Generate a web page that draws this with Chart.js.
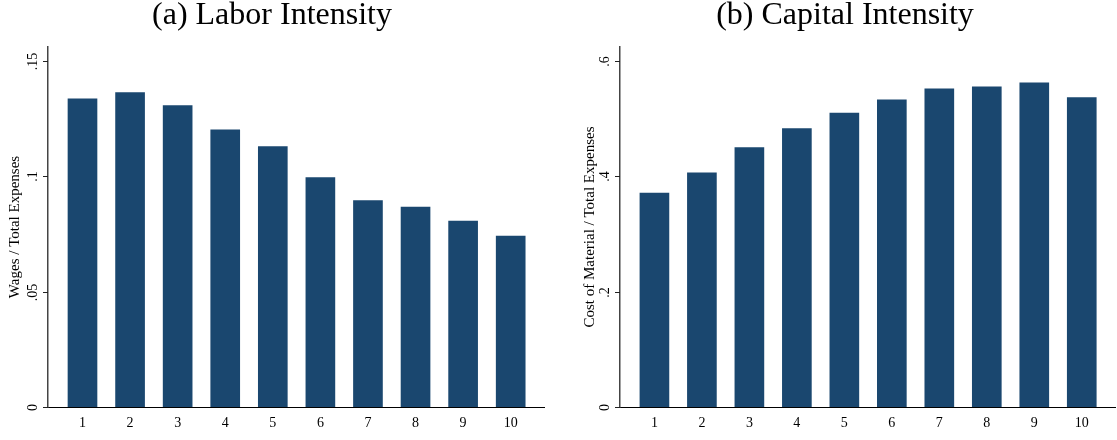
<!DOCTYPE html>
<html>
<head>
<meta charset="utf-8">
<script src="https://cdn.jsdelivr.net/npm/chart.js@4/dist/chart.umd.min.js"></script>
<style>
  html, body { margin: 0; padding: 0; background: #fff; }
  #wrap { position: relative; width: 1117px; height: 440px; }
  .panel { position: absolute; top: 0; height: 440px; }
  #left { left: 0; width: 560px; }
  #right { left: 560px; width: 557px; }
</style>
</head>
<body>
<div id="wrap">
  <div class="panel" id="left"><canvas id="laborChart"></canvas></div>
  <div class="panel" id="right"><canvas id="capitalChart"></canvas></div>
</div>
<script>
// deciles
var deciles = [1, 2, 3, 4, 5, 6, 7, 8, 9, 10];
// wages / total expenses
var laborValues = [0.1335, 0.1362, 0.1306, 0.1201, 0.1128, 0.0994, 0.0894, 0.0866, 0.0806, 0.0741];
// cost of material / total expenses
var capitalValues = [0.3706, 0.4058, 0.4496, 0.4826, 0.5093, 0.5323, 0.5514, 0.5549, 0.5618, 0.5363];
var laborTicks = [0, 0.05, 0.1, 0.15];
var laborTickLabels = ['0', '.05', '.1', '.15'];
var capitalTicks = [0, 0.2, 0.4, 0.6];
var capitalTickLabels = ['0', '.2', '.4', '.6'];

var SERIF = '"Liberation Serif", "Times New Roman", serif';
var BAR = '#1a476f';

// y tick labels are rotated in the original, so draw them (and the tick marks) ourselves
var rotatedYTicks = {
    id: 'rotatedYTicks',
    afterDraw: function (chart, args, opts) {
        var y = chart.scales.y;
        var ctx = chart.ctx;
        ctx.save();
        ctx.strokeStyle = '#222';
        ctx.lineWidth = 1;
        ctx.fillStyle = '#000';
        ctx.font = '14px ' + SERIF;
        ctx.textAlign = 'center';
        ctx.textBaseline = 'alphabetic';
        y.ticks.forEach(function (t, i) {
            var py = Math.round(y.getPixelForValue(t.value)) + 0.5;
            ctx.beginPath();
            ctx.moveTo(y.right - 5, py);
            ctx.lineTo(y.right, py);
            ctx.stroke();
            ctx.save();
            ctx.translate(y.right - 11, py);
            ctx.rotate(-Math.PI / 2);
            ctx.fillText(opts.labels[i], 0, 0);
            ctx.restore();
        });
        ctx.restore();
    }
};

function makeChart(id, title, yTitle, values, yMax, yTicks, yLabels, padLeft, padRight, yWidth) {
    var pts = deciles.map(function (d, i) { return { x: d, y: values[i] }; });
    return new Chart(document.getElementById(id), {
        type: 'bar',
        data: { datasets: [{ data: pts, backgroundColor: BAR, barThickness: 29 }] },
        options: {
            responsive: true,
            maintainAspectRatio: false,
            animation: false,
            layout: { padding: { left: padLeft, right: padRight, top: 0, bottom: 0 } },
            plugins: {
                legend: { display: false },
                tooltip: { enabled: false },
                title: {
                    display: true, text: title, color: '#000',
                    font: { family: SERIF, size: 32, weight: 'normal', lineHeight: 1.0 },
                    padding: { top: 0, bottom: 15 }
                },
                rotatedYTicks: { labels: yLabels }
            },
            scales: {
                x: {
                    type: 'linear', min: 0.275, max: 10.7, offset: false,
                    afterBuildTicks: function (s) { s.ticks = deciles.map(function (v) { return { value: v }; }); },
                    afterFit: function (s) { s.height = 33; },
                    grid: { drawOnChartArea: false, drawTicks: false },
                    border: { display: true, color: '#000', width: 1 },
                    ticks: { color: '#000', font: { family: SERIF, size: 14 }, padding: 8, maxRotation: 0 }
                },
                y: {
                    min: 0, max: yMax,
                    afterBuildTicks: function (s) { s.ticks = yTicks.map(function (v) { return { value: v }; }); },
                    afterFit: function (s) { s.width = yWidth; },
                    grid: { display: false },
                    border: { display: true, color: '#444', width: 1.5 },
                    ticks: { display: false },
                    title: {
                        display: true, text: yTitle, color: '#000',
                        font: { family: SERIF, size: 15 },
                        padding: { top: 6, bottom: 0 }
                    }
                }
            }
        },
        plugins: [rotatedYTicks]
    });
}

makeChart('laborChart', '(a) Labor Intensity', 'Wages / Total Expenses',
    laborValues, 0.156, laborTicks, laborTickLabels, 0, 16, 48);
makeChart('capitalChart', '(b) Capital Intensity', 'Cost of Material / Total Expenses',
    capitalValues, 0.624, capitalTicks, capitalTickLabels, 15, 2, 45);
</script>
</body>
</html>
